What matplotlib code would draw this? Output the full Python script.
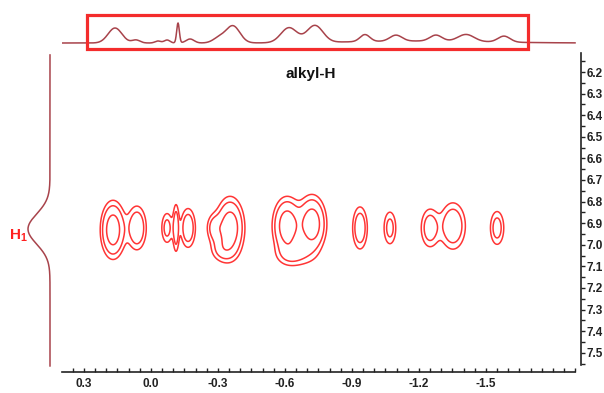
import numpy as np
import matplotlib
matplotlib.use("Agg")
import matplotlib.pyplot as plt
from matplotlib.ticker import MultipleLocator, FixedLocator, FormatStrFormatter
from matplotlib.patches import Rectangle

plt.rcParams['font.family'] = ['Liberation Sans', 'DejaVu Sans']
plt.rcParams['mathtext.fontset'] = 'custom'
plt.rcParams['mathtext.bf'] = 'Liberation Sans:bold'
plt.rcParams['mathtext.rm'] = 'Liberation Sans:bold'

# 2D cross peaks: x (ppm), y (ppm), x width, y width, intensity
peak_x = [0.170, 0.063, -0.072, -0.112, -0.166, -0.354, -0.282, -0.318,
          -0.609, -0.721, -0.645, -0.936, -1.070, -1.249, -1.352, -1.550]
peak_y = [6.931, 6.922, 6.922, 6.922, 6.922, 6.922, 6.922, 7.024,
          6.913, 6.904, 7.047, 6.922, 6.922, 6.922, 6.913, 6.922]
peak_sx = [0.031, 0.027, 0.018, 0.009, 0.022, 0.036, 0.022, 0.036,
           0.036, 0.036, 0.054, 0.022, 0.020, 0.027, 0.036, 0.022]
peak_sy = [0.074, 0.065, 0.051, 0.074, 0.060, 0.079, 0.042, 0.037,
           0.074, 0.074, 0.037, 0.065, 0.056, 0.060, 0.069, 0.056]
peak_amp = [1.0, 0.6, 0.42, 0.5, 0.55, 1.0, 0.4, 0.3,
            1.0, 1.0, 0.35, 0.55, 0.42, 0.5, 0.6, 0.45]
levels = [0.18, 0.32, 0.65]

# top 1D projection (x ppm, height, width)
top_x = [0.161, 0.067, -0.031, -0.072, -0.121, -0.175, -0.305, -0.367,
         -0.618, -0.734, -0.958, -1.097, -1.276, -1.411, -1.581, -1.200]
top_h = [15, 3, 2, 3, 20, 4, 5, 17, 15, 17, 7, 6, 6, 7, 6, 2]
top_w = [0.031, 0.018, 0.013, 0.013, 0.006, 0.018, 0.027, 0.031,
         0.036, 0.036, 0.022, 0.027, 0.027, 0.036, 0.027, 0.300]

# left 1D projection (y ppm, height, width)
left_y = [6.927]
left_h = [22]
left_w = [0.07]

x_labels = [0.3, 0.0, -0.3, -0.6, -0.9, -1.2, -1.5]

fig = plt.figure(figsize=(6.04, 3.93), dpi=100)
W, H = 604, 393

def rect(x0, y0, x1, y1):
    return [x0 / W, 1 - y1 / H, (x1 - x0) / W, (y1 - y0) / H]

xlim = (0.3985, -1.9257)
ylim = (7.589, 6.112)

ax = fig.add_axes(rect(62, 53, 581, 372))
xx = np.linspace(xlim[0], xlim[1], 800)
yy = np.linspace(ylim[1], ylim[0], 500)
X, Y = np.meshgrid(xx, yy)
Z = np.zeros_like(X)
for px, py, sx, sy, a in zip(peak_x, peak_y, peak_sx, peak_sy, peak_amp):
    Z += a * np.exp(-((X - px) ** 2) / (2 * sx ** 2) - ((Y - py) ** 2) / (2 * sy ** 2))
ax.contour(X, Y, Z, levels=levels, colors='#ff3535', linewidths=1.1)
ax.set_xlim(*xlim)
ax.set_ylim(*ylim)
ax.spines['top'].set_visible(False)
ax.spines['left'].set_visible(False)
ax.spines['bottom'].set_bounds(0.3985, -1.899)
ax.spines['right'].set_bounds(6.112, 7.556)
for s in ('bottom', 'right'):
    ax.spines[s].set_linewidth(1.2)
    ax.spines[s].set_color('#222222')
ax.yaxis.tick_right()
ax.xaxis.set_major_locator(FixedLocator(x_labels))
ax.xaxis.set_minor_locator(MultipleLocator(0.05))
ax.xaxis.set_major_formatter(FormatStrFormatter('%.1f'))
ax.yaxis.set_major_locator(MultipleLocator(0.1))
ax.yaxis.set_minor_locator(MultipleLocator(0.05))
ax.yaxis.set_major_formatter(FormatStrFormatter('%.1f'))
ax.tick_params(axis='x', which='both', direction='in', length=3, width=1, pad=4,
               labelsize=8.5, colors='#222222')
ax.tick_params(axis='y', which='both', direction='out', length=3, width=1, pad=1,
               labelsize=8.5, colors='#222222', left=False, right=True)
for lab in ax.get_xticklabels() + ax.get_yticklabels():
    lab.set_fontweight('bold')
ax.text(0.48, 0.935, 'alkyl-H', transform=ax.transAxes, ha='center', va='center',
        fontsize=11, fontweight='bold', color='#111111')

# top projection
axt = fig.add_axes(rect(62, 10, 581, 50))
tx = np.linspace(xlim[0], -1.899, 1000)
ty = np.zeros_like(tx)
for px, h, w in zip(top_x, top_h, top_w):
    ty += h * np.exp(-((tx - px) ** 2) / (2 * w ** 2))
axt.plot(tx, ty, color='#a8434b', lw=1.1)
axt.set_xlim(*xlim)
axt.set_ylim(-7, 33)
axt.axis('off')

# left projection
axl = fig.add_axes(rect(20, 53, 60, 372))
ly = np.linspace(6.121, 7.561, 500)
lx = np.zeros_like(ly)
for py, h, w in zip(left_y, left_h, left_w):
    lx += h * np.exp(-((ly - py) ** 2) / (2 * w ** 2))
axl.plot(lx, ly, color='#a8434b', lw=1.1)
axl.set_xlim(30, -10)
axl.set_ylim(*ylim)
axl.axis('off')

fig.text(18 / W, 1 - 236 / H, r'$\mathbf{H_1}$', color='#ff2020', fontsize=11,
         ha='center', va='center')

fig.patches.append(Rectangle((87 / W, 1 - 49 / H), (528 - 87) / W, (49 - 15) / H,
                             transform=fig.transFigure, fill=False,
                             edgecolor='#f42c2c', lw=2.3))

fig.savefig('out.png', dpi=100)
